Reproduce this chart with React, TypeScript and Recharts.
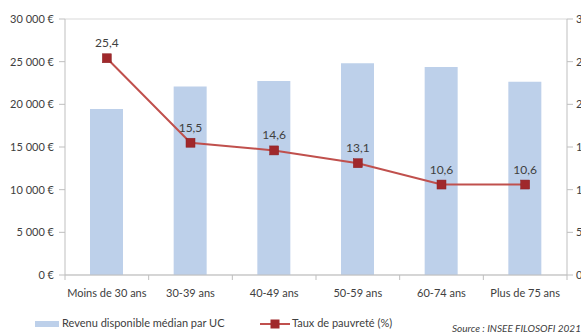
import React from 'react';
import {
  ComposedChart,
  Bar,
  Line,
  XAxis,
  YAxis,
  CartesianGrid,
  LabelList,
  Legend,
} from 'recharts';

const categories = ['Moins de 30 ans', '30-39 ans', '40-49 ans', '50-59 ans', '60-74 ans', 'Plus de 75 ans'];
const revenuMedian = [19450, 22080, 22730, 24800, 24380, 22650];
const tauxPauvrete = [25.4, 15.5, 14.6, 13.1, 10.6, 10.6];
const leftTicks = [0, 5000, 10000, 15000, 20000, 25000, 30000];
const rightTicks = [0, 5, 10, 15, 20, 25, 30];

const data = categories.map((c, i) => ({
  age: c,
  revenu: revenuMedian[i],
  taux: tauxPauvrete[i],
}));

const FONT = 'Lato, "Liberation Sans", sans-serif';
const TEXT = '#404040';
const BAR = '#BDD0EA';
const LINE = '#C0504D';
const MARKER = '#A0282B';

const fmtEuro = (v: number) =>
  (v === 0 ? '0' : `${Math.floor(v / 1000)}\u00a0${String(v % 1000).padStart(3, '0')}`) + '\u00a0€';

const SquareDot = (props: any) => {
  const { cx, cy } = props;
  if (cx == null || cy == null) return null;
  return <rect x={cx - 4.5} y={cy - 4.5} width={9} height={9} fill={MARKER} stroke="#8B2023" strokeWidth={0.5} />;
};

// Excel puts the x ticks between categories, not at their centres
const XTick = (props: any) => {
  const { x, y, payload, index } = props;
  const band = (567 - 65) / categories.length;
  return (
    <g>
      <line x1={x - band / 2} x2={x - band / 2} y1={y - 8} y2={y - 3} stroke="#BFBFBF" />
      {index === categories.length - 1 && (
        <line x1={x + band / 2} x2={x + band / 2} y1={y - 8} y2={y - 3} stroke="#BFBFBF" />
      )}
      <text x={x} y={y + 14} textAnchor="middle" fill={TEXT} fontSize={11} fontFamily={FONT}>
        {payload.value}
      </text>
    </g>
  );
};

const renderLegend = () => (
  <div style={{ position: 'relative', height: 24, fontFamily: FONT, fontSize: 11, color: TEXT, whiteSpace: 'nowrap' }}>
    <div style={{ position: 'absolute', left: 35, top: 7, width: 24, height: 6, background: BAR }} />
    <span style={{ position: 'absolute', left: 62, top: 2 }}>Revenu disponible médian par UC</span>
    <svg style={{ position: 'absolute', left: 260, top: 4 }} width={30} height={12}>
      <line x1={0} x2={30} y1={6} y2={6} stroke={LINE} strokeWidth={2} />
      <rect x={10.5} y={1.5} width={9} height={9} fill={MARKER} />
    </svg>
    <span style={{ position: 'absolute', left: 292, top: 2 }}>Taux de pauvreté (%)</span>
    <span style={{ position: 'absolute', left: 452, top: 8, fontStyle: 'italic', fontSize: 10 }}>
      Source : INSEE FILOSOFI 2021
    </span>
  </div>
);

export default function App() {
  return (
    <div style={{ position: 'absolute', left: 0, top: 0, width: 581, height: 335, background: '#fff' }}>
      <ComposedChart
        width={581}
        height={335}
        data={data}
        margin={{ top: 19, right: 0, bottom: 16, left: 0 }}
        barCategoryGap="30%"
      >
        <CartesianGrid vertical={false} stroke="#D9D9D9" />
        <XAxis
          dataKey="age"
          axisLine={{ stroke: '#BFBFBF' }}
          tickLine={false}
          tick={<XTick />}
          interval={0}
          height={20}
        />
        <YAxis
          yAxisId="left"
          width={65}
          domain={[0, 30000]}
          ticks={leftTicks}
          tickFormatter={fmtEuro}
          axisLine={{ stroke: '#BFBFBF' }}
          tickLine={{ stroke: '#BFBFBF' }}
          tickSize={6}
          tickMargin={5}
          tick={{ fill: TEXT, fontSize: 11, fontFamily: FONT }}
          interval={0}
        />
        <YAxis
          yAxisId="right"
          orientation="right"
          width={14}
          domain={[0, 30]}
          ticks={rightTicks}
          axisLine={{ stroke: '#BFBFBF' }}
          tickLine={{ stroke: '#BFBFBF' }}
          tickSize={6}
          tickMargin={3}
          tick={{ fill: TEXT, fontSize: 11, fontFamily: FONT }}
          interval={0}
        />
        <Bar yAxisId="left" dataKey="revenu" fill={BAR} barSize={33} isAnimationActive={false} />
        <Line
          yAxisId="right"
          dataKey="taux"
          stroke={LINE}
          strokeWidth={2}
          dot={<SquareDot />}
          activeDot={false}
          isAnimationActive={false}
        >
          <LabelList
            dataKey="taux"
            position="top"
            offset={11}
            formatter={(v: any) => String(v).replace('.', ',')}
            fill={TEXT}
            fontSize={12}
            fontFamily={FONT}
          />
        </Line>
        <Legend
          verticalAlign="bottom"
          content={renderLegend}
          wrapperStyle={{ left: 0, top: 314, width: 581 }}
        />
      </ComposedChart>
    </div>
  );
}
